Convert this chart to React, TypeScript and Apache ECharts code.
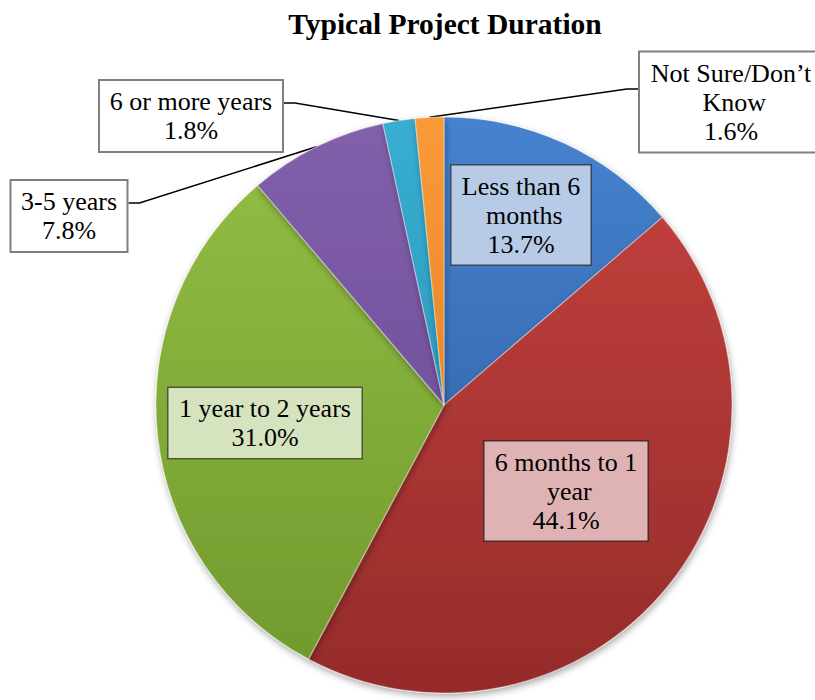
import React, { useEffect, useRef } from "react";
import * as echarts from "echarts";

// Survey answers, clockwise from 12 o'clock
const categories = [
  "Less than 6 months",
  "6 months to 1 year",
  "1 year to 2 years",
  "3-5 years",
  "6 or more years",
  "Not Sure/Don\u2019t Know",
];
const shares = [13.7, 44.1, 31.0, 7.8, 1.8, 1.6];

const titleText = "Typical Project Duration";

// slice gradients: [top colour, bottom colour]
const sliceColors = [
  ["#4682CF", "#2B5A9A"],
  ["#C6433F", "#952B2A"],
  ["#95C045", "#6F982D"],
  ["#8260AC", "#63458E"],
  ["#38AED2", "#2288A8"],
  ["#F99A38", "#D9741A"],
];
const boxFills = ["#B7CBE6", "#DFB3B4", "#D6E3BF", "#FFFFFF", "#FFFFFF", "#FFFFFF"];
const boxBorders = ["#39475A", "#4A2C2C", "#4D5838", "#808080", "#808080", "#808080"];

// chart geometry
const CENTER: [number, number] = [444, 405];
const RADIUS = 288;
const FONT = "Liberation Serif";
const LINE_H = 29;
// label box centres, wrap widths and side padding
const labelCentres: [number, number][] = [
  [521, 215],
  [566, 491],
  [265, 423],
  [69, 216],
  [191, 116],
  [731, 102],
];
const labelWidths = [121, 145, 175, 97, 164, 182];
const labelSidePad = [9, 9, 9, 9, 9, 0];
const outsideLabel = [false, false, false, true, true, true];

export default function App() {
  const ref = useRef<HTMLDivElement>(null);

  useEffect(() => {
    if (!ref.current) return;
    const chart = echarts.init(ref.current, undefined, { renderer: "svg" });

    const total = shares.reduce((a, b) => a + b, 0);
    const midAngles: number[] = [];
    let acc = 0;
    shares.forEach((v) => {
      midAngles.push(((acc + v / 2) / total) * Math.PI * 2);
      acc += v;
    });

    const labelBase = {
      fontFamily: FONT,
      fontSize: 26,
      lineHeight: LINE_H,
      color: "#000",
      align: "center",
      overflow: "break",
      padding: [6, 9],
    };

    const data = categories.map((name, i) => ({
      name,
      value: shares[i],
      itemStyle: {
        color: new echarts.graphic.LinearGradient(
          0,
          CENTER[1] - RADIUS,
          0,
          CENTER[1] + RADIUS,
          [
            { offset: 0, color: sliceColors[i][0] },
            { offset: 1, color: sliceColors[i][1] },
          ],
          true
        ),
      },
      label: {
        ...labelBase,
        position: outsideLabel[i] ? "outside" : "inside",
        width: labelWidths[i],
        padding: [6, labelSidePad[i]],
        backgroundColor: boxFills[i],
        borderColor: boxBorders[i],
        borderWidth: outsideLabel[i] ? 2 : 1.5,
      },
      labelLine: { show: outsideLabel[i] },
    }));

    chart.setOption({
      animation: false,
      title: {
        text: titleText,
        left: 440,
        textAlign: "center",
        top: 4,
        textStyle: {
          fontFamily: FONT,
          fontWeight: "bold",
          fontSize: 29.5,
          color: "#000",
        },
      },
      series: [
        {
          type: "pie",
          center: CENTER,
          radius: RADIUS,
          startAngle: 90,
          clockwise: true,
          avoidLabelOverlap: false,
          itemStyle: {
            borderColor: "rgba(255,255,255,0.35)",
            borderWidth: 1.2,
            shadowBlur: 7,
            shadowColor: "rgba(0,0,0,0.35)",
            shadowOffsetX: 1,
            shadowOffsetY: 3,
          },
          emphasis: { disabled: true },
          label: {
            show: true,
            formatter: (p: any) => `${p.name}\n${p.value.toFixed(1)}%`,
            ...labelBase,
          },
          labelLine: {
            show: false,
            lineStyle: { color: "#000", width: 1.5 },
          },
          labelLayout: (params: any) => {
            const i = params.dataIndex;
            const [x, y] = labelCentres[i];
            const out: any = { x, y, align: "center", verticalAlign: "middle" };
            if (outsideLabel[i]) {
              const a = midAngles[i];
              const anchor = [
                CENTER[0] + RADIUS * Math.sin(a),
                CENTER[1] - RADIUS * Math.cos(a),
              ];
              const rect = params.labelRect;
              const leftSide = x < CENTER[0];
              const edgeX = leftSide ? x + rect.width / 2 : x - rect.width / 2;
              const ly = y - 13;
              const elbowX = leftSide ? edgeX + 11 : edgeX - 11;
              out.labelLinePoints = [anchor, [elbowX, ly], [edgeX, ly]];
            }
            return out;
          },
          data,
        },
      ],
    });

    return () => chart.dispose();
  }, []);

  return (
    <div
      ref={ref}
      style={{ position: "fixed", left: 0, top: 0, width: 815, height: 700, background: "#fff" }}
    />
  );
}
